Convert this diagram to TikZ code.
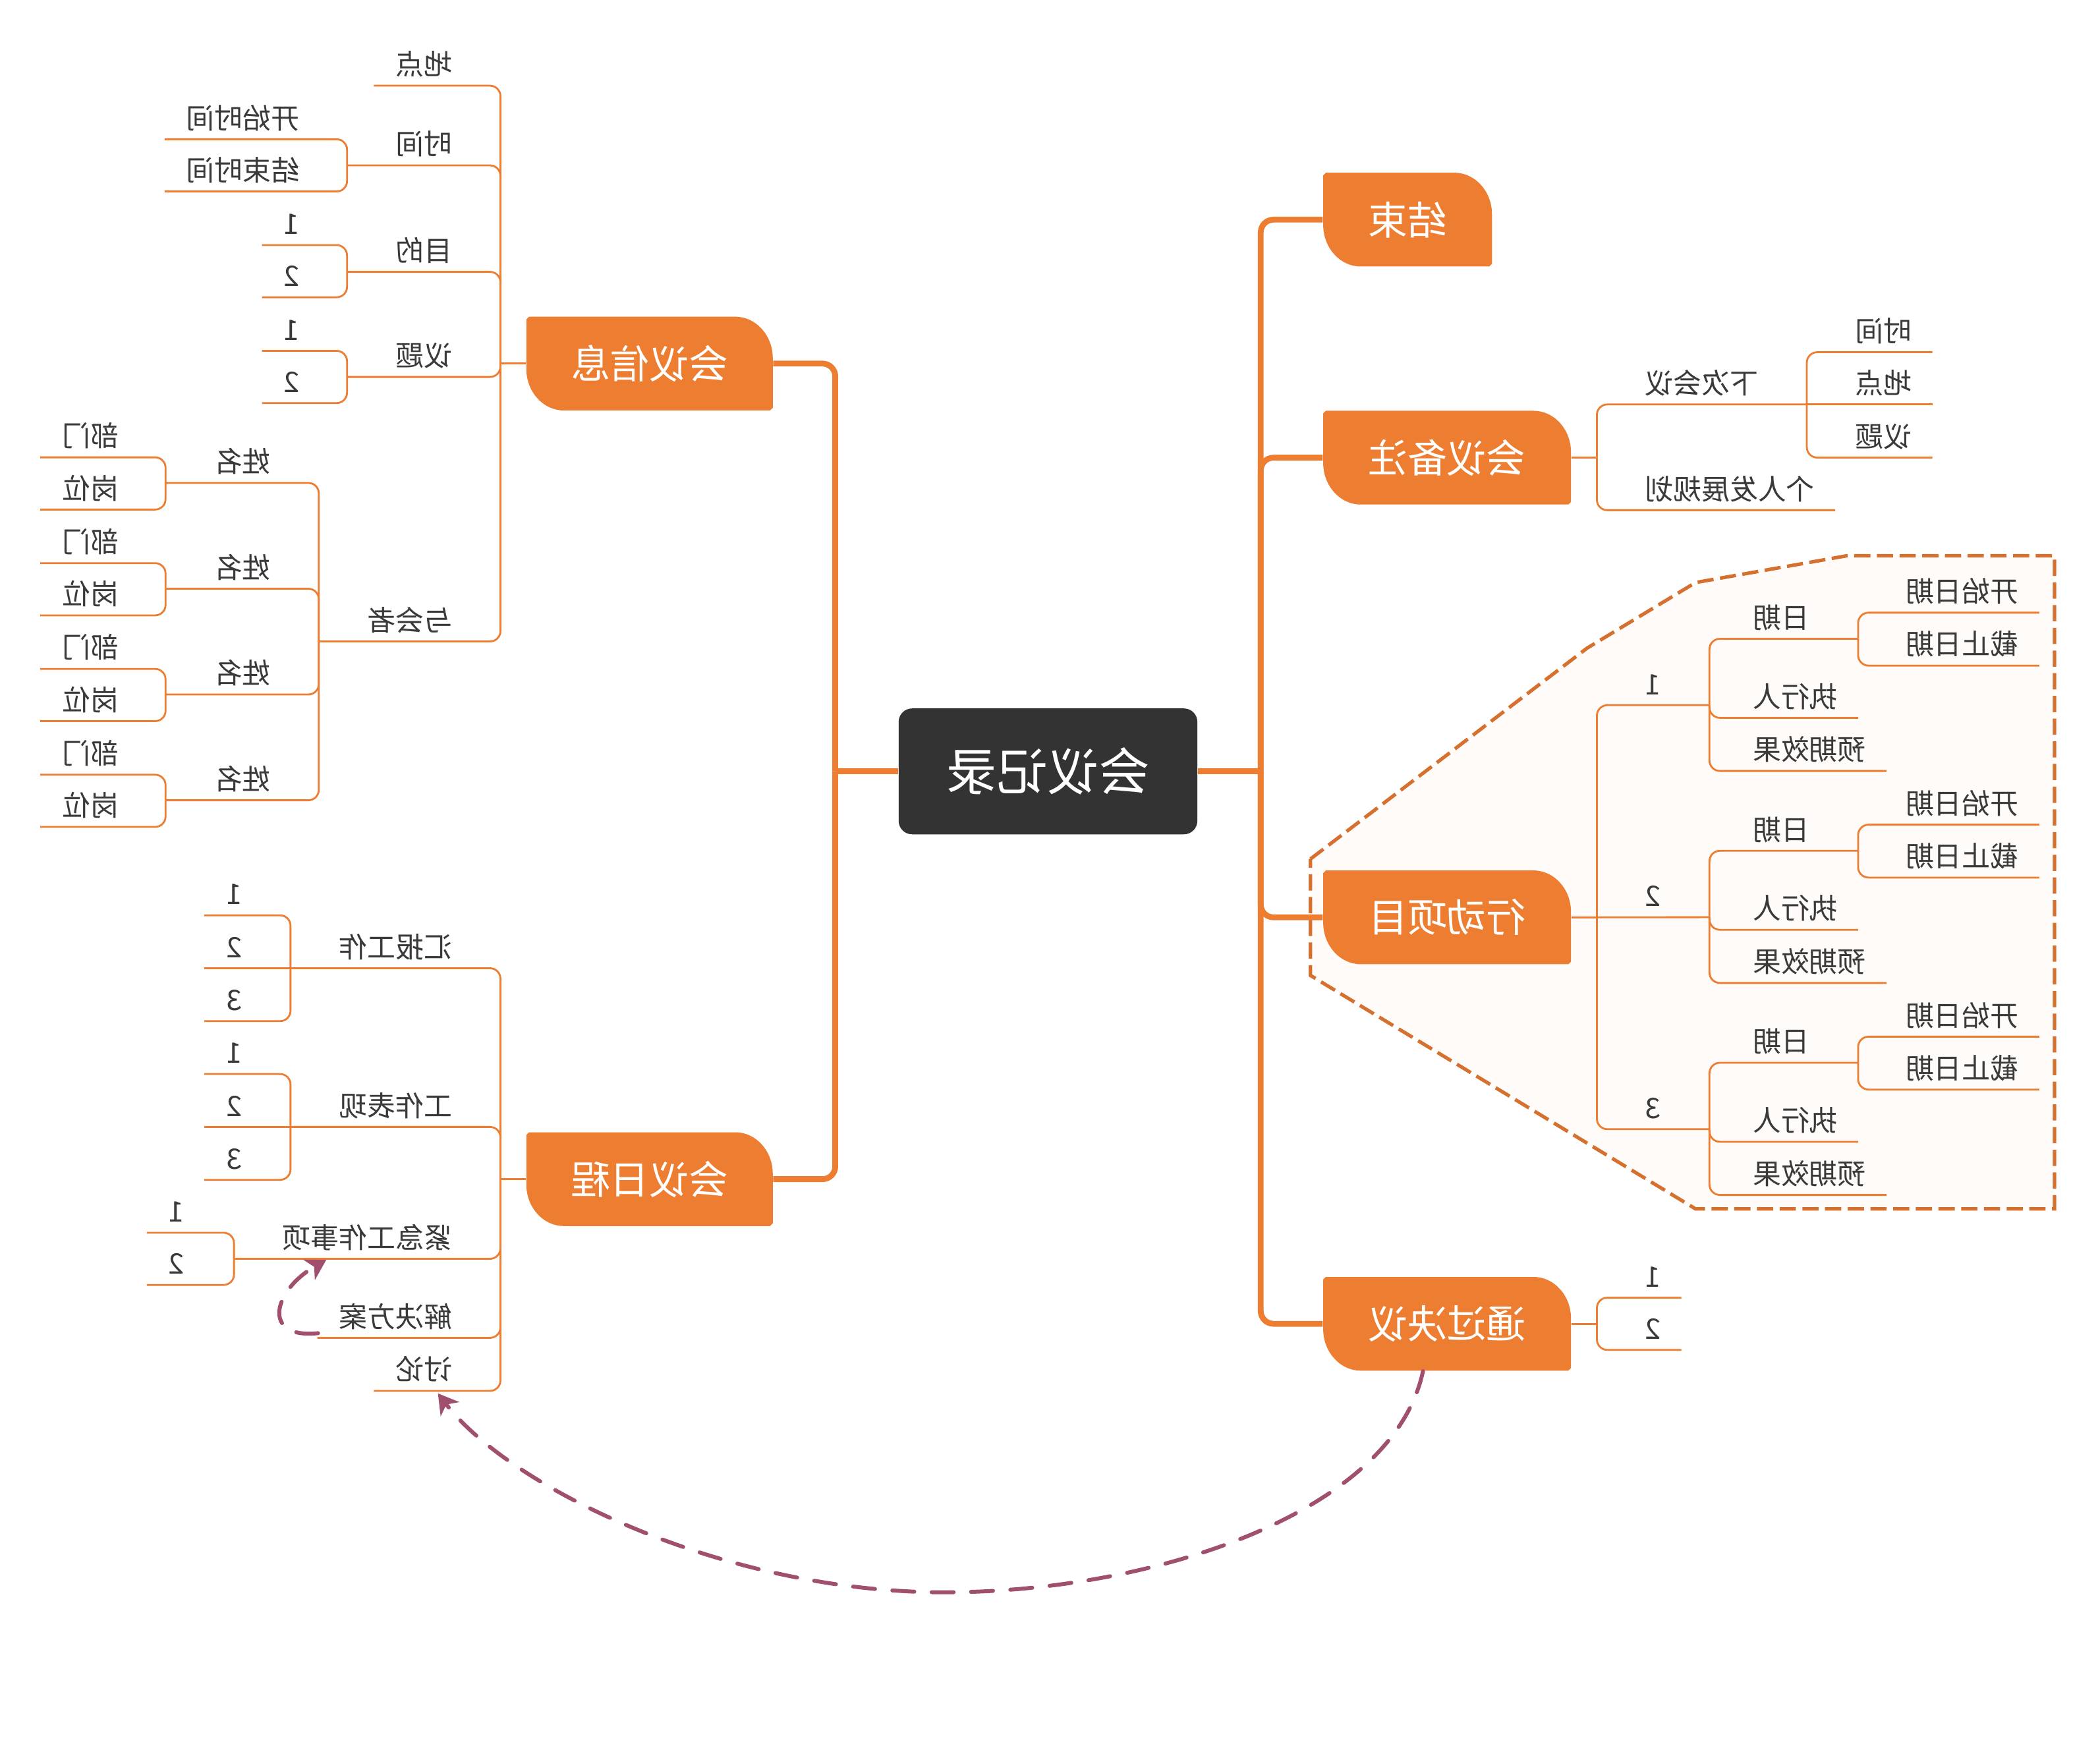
\documentclass[tikz,border=0pt]{standalone}
\usepackage{fontspec}
\usepackage{graphicx}
\newfontfamily\cjk{Noto Sans CJK SC}
\usetikzlibrary{calc,arrows.meta}
\definecolor{orangeC}{HTML}{ED7D31}
\definecolor{darkC}{HTML}{333333}
\definecolor{textC}{HTML}{3A3A3A}
\definecolor{bndC}{HTML}{D5702F}
\definecolor{bndFill}{HTML}{FFFBF8}
\definecolor{relC}{HTML}{A0506E}
\newlength\U \setlength\U{0.020325cm}
\tikzset{
 lbl/.style={font=\cjk\fontsize{12.2}{14}\selectfont, text=textC, inner sep=0pt, text height=10.3pt, text depth=2.2pt},
 topic/.style={font=\cjk\fontsize{17}{20}\selectfont, text=white, inner sep=0pt, minimum height={70*\U}},
 trunkline/.style={draw=orangeC, line width=2.5pt, rounded corners=5.5pt},
 twig/.style={draw=orangeC, line width=0.8pt, rounded corners=4.5pt},
 rel/.style={draw=relC, line width=1.7pt, line cap=round, dash pattern=on 9.5pt off 7.5pt, -{Stealth[length=8.5pt,width=10pt,inset=2.5pt]}},
}
\newcommand\topicbox[5]{%
 \fill[orangeC] ({#2-#4/2+2},{#3-35}) -- ({#2+#4/2-28},{#3-35}) .. controls ({#2+#4/2-12.5},{#3-35}) and ({#2+#4/2},{#3-21}) .. ({#2+#4/2},{#3-4}) -- ({#2+#4/2},{#3+33}) -- ({#2+#4/2-2},{#3+35}) -- ({#2-#4/2+28},{#3+35}) .. controls ({#2-#4/2+12.5},{#3+35}) and ({#2-#4/2},{#3+21}) .. ({#2-#4/2},{#3+4}) -- ({#2-#4/2},{#3-33}) -- cycle;
 \node[topic, minimum width={#4*\U}] (#1) at (#2,#3) {\reflectbox{#5}};}
\newcommand\Lnode[4]{%
 \node[lbl, anchor=east] (#1) at (#2,{#3-15}) {\reflectbox{#4}};
 \coordinate (#1-e) at ($(#1.west)+(-16,15)$);
 \coordinate (#1-j) at ($(#1.west)+(-36,15)$);}
\newcommand\Rnode[4]{%
 \node[lbl, anchor=west] (#1) at (#2,{#3-15}) {\reflectbox{#4}};
 \coordinate (#1-e) at ($(#1.east)+(15,15)$);
 \coordinate (#1-j) at ($(#1.east)+(36,15)$);}
\begin{document}
\begin{tikzpicture}[x=0.020325cm, y=-0.020325cm]
\fill[white] (0,0) rectangle (1568,1305);
\useasboundingbox (0,0) rectangle (1568,1305);

% boundary around action items
\filldraw[fill=bndFill, draw=bndC, line width=1.5pt, dash pattern=on 7pt off 2.8pt]
 (978.5,641.4) -- (1185,484) -- (1266,435) -- (1379,415) -- (1534,415) -- (1534,902.7) -- (1266,902.7) -- (978.5,728.4) -- cycle;

% root
\node[fill=darkC, rounded corners=5.8pt, minimum width={223*\U}, minimum height={94*\U}, inner sep=0pt,
 font=\cjk\fontsize{22}{26}\selectfont, text=white] (root) at (782.5,576) {\reflectbox{会议记录}};
\coordinate (lj) at ($(root.west)+(-47,0)$);
\coordinate (rj) at ($(root.east)+(47,0)$);

% main topics
\topicbox{xinxi}{485}{271.5}{184}{会议信息}
\topicbox{richeng}{485}{880.5}{184}{会议日程}
\topicbox{jieshu}{1051}{164}{126}{结束}
\topicbox{beizhu}{1080.5}{341.75}{185}{会议备注}
\topicbox{xingdong}{1080.5}{685}{185}{行动项目}
\topicbox{tongguo}{1080.5}{988.5}{185}{通过决议}
\coordinate (xinxi-j) at ($(xinxi.west)+(-19,0)$);
\coordinate (richeng-j) at ($(richeng.west)+(-19,0)$);
\coordinate (beizhu-j) at ($(beizhu.east)+(19,0)$);
\coordinate (xingdong-j) at ($(xingdong.east)+(19,0)$);
\coordinate (tongguo-j) at ($(tongguo.east)+(19,0)$);

% main connectors
\draw[trunkline] (root.west) -- (lj);
\draw[trunkline] (lj) |- (xinxi.east);
\draw[trunkline] (lj) |- (richeng.east);
\draw[trunkline] (root.east) -- (rj);
\foreach \n in {jieshu,beizhu,xingdong,tongguo} \draw[trunkline] (rj) |- (\n.west);

% ---- 会议信息 ----
\Lnode{xx1}{338}{64}{地点}
\Lnode{xx2}{338}{123.5}{时间}
\Lnode{xx3}{338}{203}{目的}
\Lnode{xx4}{338}{281.5}{议题}
\Lnode{xx5}{338}{479}{与会者}
\Lnode{xx21}{224}{104}{开始时间}
\Lnode{xx22}{224}{143}{结束时间}
\Lnode{xx31}{224}{183}{1}
\Lnode{xx32}{224}{222}{2}
\Lnode{xx41}{224}{262}{1}
\Lnode{xx42}{224}{301}{2}
\draw[twig] (xinxi.west) -- (xinxi-j);
\draw[twig] (xinxi-j) |- (xx1-e);
\foreach \c in {xx2,xx3,xx4,xx5} \draw[twig] (xinxi-j) |- (\c-j);
\draw[twig] (xx2-j) |- (xx21-e);
\draw[twig] (xx2-j) |- (xx22-e);
\draw[twig] (xx3-j) |- (xx31-e);
\draw[twig] (xx3-j) |- (xx32-e);
\draw[twig] (xx4-j) |- (xx41-e);
\draw[twig] (xx4-j) |- (xx42-e);
\foreach \k/\o in {1/0,2/79,3/158,4/237}{
 \Lnode{p\k}{202.5}{360.6+\o}{姓名}
 \Lnode{p\k a}{89}{341.5+\o}{部门}
 \Lnode{p\k b}{89}{380.5+\o}{岗位}
 \draw[twig] (xx5-j) |- (p\k-j);
 \draw[twig] (p\k-j) |- (p\k a-e);
 \draw[twig] (p\k-j) |- (p\k b-e);
}

% ---- 会议日程 ----
\Lnode{rc1}{338}{723}{汇报工作}
\Lnode{rc2}{338}{841.5}{工作表现}
\Lnode{rc3}{338}{940}{紧急工作事项}
\Lnode{rc4}{338}{999}{解决方案}
\Lnode{rc5}{338}{1038.6}{讨论}
\Lnode{rc11}{181}{683.5}{1}
\Lnode{rc12}{181}{723}{2}
\Lnode{rc13}{181}{762.5}{3}
\Lnode{rc21}{181}{802}{1}
\Lnode{rc22}{181}{841.5}{2}
\Lnode{rc23}{181}{881}{3}
\Lnode{rc31}{138}{920.5}{1}
\Lnode{rc32}{138}{959.5}{2}
\draw[twig] (richeng.west) -- (richeng-j);
\foreach \c in {rc1,rc2,rc3} \draw[twig] (richeng-j) |- (\c-j);
\foreach \c in {rc4,rc5} \draw[twig] (richeng-j) |- (\c-e);
\draw[twig] (rc1-j) |- (rc11-e);
\draw[twig] (rc1-j) -- (rc12-e);
\draw[twig] (rc1-j) |- (rc13-e);
\draw[twig] (rc2-j) |- (rc21-e);
\draw[twig] (rc2-j) -- (rc22-e);
\draw[twig] (rc2-j) |- (rc23-e);
\draw[twig] (rc3-j) |- (rc31-e);
\draw[twig] (rc3-j) |- (rc32-e);

% ---- 会议备注 ----
\Rnode{bz1}{1228}{302}{下次会议}
\Rnode{bz2}{1228}{381}{个人发展规划}
\Rnode{bz11}{1385}{263}{时间}
\Rnode{bz12}{1385}{302}{地点}
\Rnode{bz13}{1385}{341.7}{议题}
\draw[twig] (beizhu.east) -- (beizhu-j);
\draw[twig] (beizhu-j) |- (bz1-j);
\draw[twig] (beizhu-j) |- (bz2-e);
\draw[twig] (bz1-j) |- (bz11-e);
\draw[twig] (bz1-j) -- (bz12-e);
\draw[twig] (bz1-j) |- (bz13-e);

% ---- 行动项目 ----
\draw[twig] (xingdong.east) -- (xingdong-j);
\foreach \k/\o in {1/0,2/158.3,3/316.6}{
 \Rnode{a\k}{1228}{526.6+\o}{\k}
 \Rnode{a\k d}{1308.5}{477+\o}{日期}
 \Rnode{a\k p}{1308.5}{536+\o}{执行人}
 \Rnode{a\k r}{1308.5}{575.7+\o}{预期效果}
 \Rnode{a\k s}{1422.6}{457.5+\o}{开始日期}
 \Rnode{a\k t}{1422.6}{497+\o}{截止日期}
 \draw[twig] (a\k-j) |- (a\k d-j);
 \draw[twig] (a\k-j) |- (a\k p-e);
 \draw[twig] (a\k-j) |- (a\k r-e);
 \draw[twig] (a\k d-j) |- (a\k s-e);
 \draw[twig] (a\k d-j) |- (a\k t-e);
}
\draw[twig] (xingdong-j) |- (a1-j);
\draw[twig] (xingdong-j) -- (a2-j);
\draw[twig] (xingdong-j) |- (a3-j);

% ---- 通过决议 ----
\Rnode{t1}{1228}{969}{1}
\Rnode{t2}{1228}{1008}{2}
\draw[twig] (tongguo.east) -- (tongguo-j);
\draw[twig] (tongguo-j) |- (t1-e);
\draw[twig] (tongguo-j) |- (t2-e);

% ---- relationships ----
\coordinate (r1s) at ($(tongguo.south)+(-18,0)$);
\coordinate (r1e) at (327,1040.5);
\draw[rel] (r1s) .. controls (1040,1130) and (860,1189) .. (705,1189) .. controls (540,1189) and (380,1110) .. (r1e);
\coordinate (r2s) at (237.5,995.5);
\coordinate (r2e) at (243.6,940.8);
\draw[rel] (r2s) .. controls (195,1000) and (203.6,963.8) .. (r2e);
\end{tikzpicture}
\end{document}
